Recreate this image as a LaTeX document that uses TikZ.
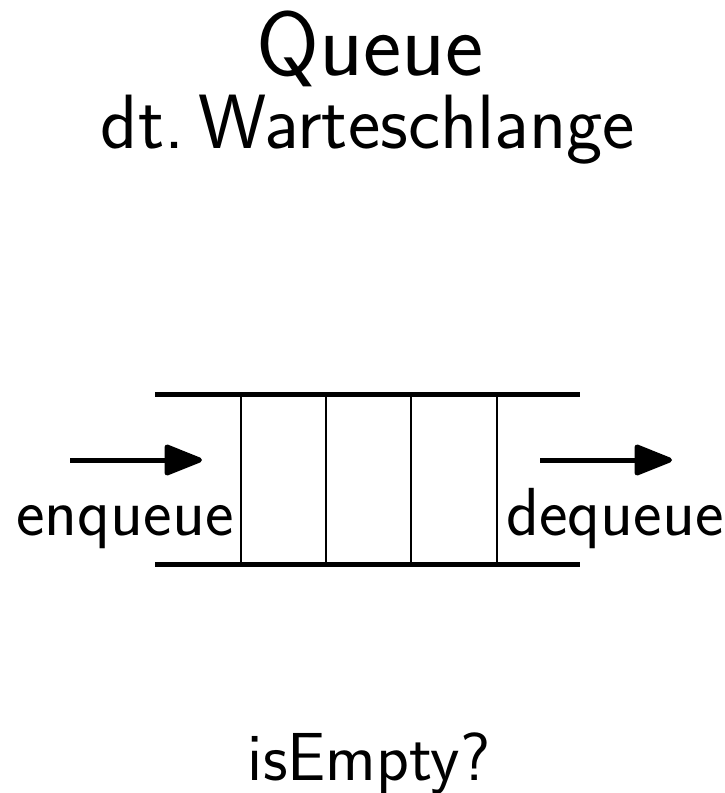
\documentclass[tikz,border=0pt]{standalone}
\usetikzlibrary{arrows.meta}
\renewcommand{\familydefault}{\sfdefault}
\begin{document}
\begin{tikzpicture}[x=1pt,y=-1pt,
  rail/.style={line width=5pt},
  divider/.style={line width=2.5pt},
  flow/.style={line width=5pt,-{Triangle[length=42pt,width=32pt,round]}},
  label/.style={inner sep=0pt,anchor=base,font=\fontsize{68}{74}\selectfont}]
\useasboundingbox (0,0) rectangle (725,793);
% title
\node[inner sep=0pt,anchor=base,font=\fontsize{91}{98}\selectfont] (title) at (370,75) {Queue};
\node[inner sep=0pt,anchor=base,font=\fontsize{77}{84}\selectfont] (subtitle) at (368,148) {dt.\hspace{0.18em}Warteschlange};
% queue body
\coordinate (tl) at (155,394);
\coordinate (tr) at (580,394);
\coordinate (bl) at (155,564);
\coordinate (br) at (580,564);
\draw[rail] (tl) -- (tr);
\draw[rail] (bl) -- (br);
\foreach \x [count=\i] in {241,326,411,497}{
  \coordinate (c\i t) at (\x,394);
  \coordinate (c\i b) at (\x,564);
  \draw[divider] (c\i t) -- (c\i b);
}
% operations
\coordinate (inA) at (70,460);
\coordinate (inB) at (202,460);
\coordinate (outA) at (540,460);
\coordinate (outB) at (672,460);
\draw[flow] (inA) -- (inB);
\draw[flow] (outA) -- (outB);
\node[label] (enq) at (125,535) {enqueue};
\node[label] (deq) at (615,535) {dequeue};
\node[label] (empty) at (369,780) {isEmpty?};
\end{tikzpicture}
\end{document}
